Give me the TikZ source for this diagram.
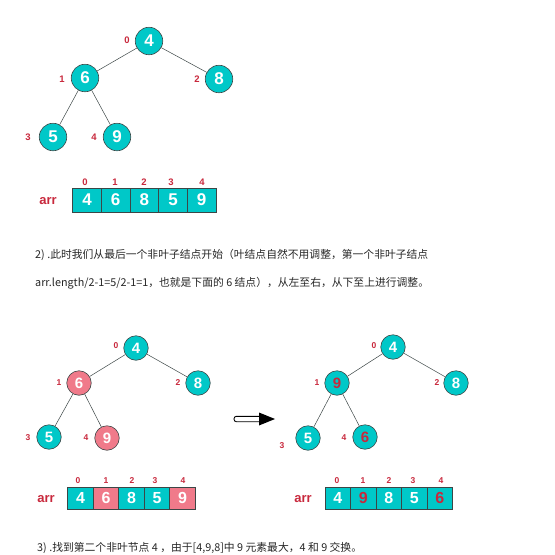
\documentclass[tikz,border=0pt]{standalone}
\usepackage{fontspec}
\setmainfont{Liberation Sans}
\newfontfamily\cjk{Noto Sans CJK SC}
\definecolor{heapteal}{RGB}{0,200,200}
\definecolor{heappink}{RGB}{240,122,138}
\definecolor{idxred}{RGB}{200,40,60}
\definecolor{rimgray}{RGB}{60,70,70}
\tikzset{
  tnode/.style={circle, draw=rimgray, line width=0.6pt, fill=heapteal, inner sep=0pt,
    minimum size=27.5pt, text=white, font=\bfseries\fontsize{17}{17}\selectfont},
  snode/.style={tnode, minimum size=24.5pt, font=\bfseries\fontsize{15}{15}\selectfont},
  hot/.style={fill=heappink},
  swapped/.style={text=idxred},
  idx/.style={text=idxred, inner sep=0pt, font=\bfseries\fontsize{9.5}{9.5}\selectfont},
  sidx/.style={idx, font=\bfseries\fontsize{8.5}{8.5}\selectfont},
  arrlabel/.style={text=idxred, inner sep=0pt, font=\bfseries\fontsize{13}{13}\selectfont},
  cell/.style={rectangle, draw=rimgray, line width=0.6pt, fill=heapteal, inner sep=0pt,
    minimum width=28.66pt, minimum height=24pt, text=white, font=\bfseries\fontsize{17}{17}\selectfont},
  scell/.style={cell, minimum width=25.5pt, minimum height=22pt, font=\bfseries\fontsize{16}{16}\selectfont},
  edge/.style={draw=rimgray, line width=0.5pt},
  note/.style={anchor=west, inner sep=0pt, text=black!85, font=\cjk\fontsize{10.8}{10.8}\selectfont}
}
\begin{document}
\begin{tikzpicture}[x=1pt, y=-1pt]
\useasboundingbox (0,0) rectangle (555,555);

% ---- initial tree ----
\node[tnode] (a0) at (149,41) {4};
\node[tnode] (a1) at (85,78) {6};
\node[tnode] (a2) at (219,79) {8};
\node[tnode] (a3) at (53,137) {5};
\node[tnode] (a4) at (117,137) {9};
\draw[edge] (a0) -- (a1);
\draw[edge] (a0) -- (a2);
\draw[edge] (a1) -- (a3);
\draw[edge] (a1) -- (a4);
\node[idx] (ai0) at (127,40) {0};
\node[idx] (ai1) at (62,79) {1};
\node[idx] (ai2) at (197,79) {2};
\node[idx] (ai3) at (28,137) {3};
\node[idx] (ai4) at (94,137) {4};

% ---- initial array ----
\node[arrlabel] (aarr) at (48,201) {arr};
\node[cell] (c0) at (87,200) {4};
\node[cell] (c1) at (115.66,200) {6};
\node[cell] (c2) at (144.32,200) {8};
\node[cell] (c3) at (172.98,200) {5};
\node[cell] (c4) at (201.64,200) {9};
\node[idx] (ci0) at (85,182) {0};
\node[idx] (ci1) at (115,182) {1};
\node[idx] (ci2) at (144,182) {2};
\node[idx] (ci3) at (171,182) {3};
\node[idx] (ci4) at (202,182) {4};

% ---- step 2 text ----
\node[note] (t1) at (35,255) {2)\ .此时我们从最后一个非叶子结点开始（叶结点自然不用调整，第一个非叶子结点};
\node[note] (t2) at (35,283) {arr.length/2-1=5/2-1=1，也就是下面的 6 结点），从左至右，从下至上进行调整。};

% ---- tree before adjustment ----
\node[snode] (b0) at (136,348) {4};
\node[snode, hot] (b1) at (79,383) {6};
\node[snode] (b2) at (198,383) {8};
\node[snode] (b3) at (49,437) {5};
\node[snode, hot] (b4) at (107,438) {9};
\draw[edge] (b0) -- (b1);
\draw[edge] (b0) -- (b2);
\draw[edge] (b1) -- (b3);
\draw[edge] (b1) -- (b4);
\node[sidx] (bi0) at (116,346) {0};
\node[sidx] (bi1) at (59,383) {1};
\node[sidx] (bi2) at (178,383) {2};
\node[sidx] (bi3) at (28,438) {3};
\node[sidx] (bi4) at (86,438) {4};

% ---- hollow arrow between the two trees ----
\draw[line width=0.9pt, rounded corners=2.4pt] (259,416.3) -- (234,416.3) -- (234,421.7) -- (259,421.7);
\fill (259,412.5) -- (275,419) -- (259,425.5) -- cycle;

% ---- tree after adjustment ----
\node[snode] (d0) at (393,347) {4};
\node[snode, swapped] (d1) at (337,383) {9};
\node[snode] (d2) at (456,383) {8};
\node[snode] (d3) at (308,438) {5};
\node[snode, swapped] (d4) at (365,437) {6};
\draw[edge] (d0) -- (d1);
\draw[edge] (d0) -- (d2);
\draw[edge] (d1) -- (d3);
\draw[edge] (d1) -- (d4);
\node[sidx] (di0) at (374,346) {0};
\node[sidx] (di1) at (317,383) {1};
\node[sidx] (di2) at (437,383) {2};
\node[sidx] (di3) at (282,446) {3};
\node[sidx] (di4) at (344,438) {4};

% ---- arrays below ----
\node[arrlabel] (barr) at (46,499) {arr};
\node[scell] (e0) at (80.5,498) {4};
\node[scell, hot] (e1) at (106,498) {6};
\node[scell] (e2) at (131.5,498) {8};
\node[scell] (e3) at (157,498) {5};
\node[scell, hot] (e4) at (182.5,498) {9};
\node[sidx] (ei0) at (78,481) {0};
\node[sidx] (ei1) at (106,481) {1};
\node[sidx] (ei2) at (132,481) {2};
\node[sidx] (ei3) at (155,481) {3};
\node[sidx] (ei4) at (183,481) {4};

\node[arrlabel] (darr) at (303,499) {arr};
\node[scell] (f0) at (337.7,498) {4};
\node[scell, swapped] (f1) at (363.2,498) {9};
\node[scell] (f2) at (388.7,498) {8};
\node[scell] (f3) at (414.2,498) {5};
\node[scell, swapped] (f4) at (439.7,498) {6};
\node[sidx] (fi0) at (337,481) {0};
\node[sidx] (fi1) at (363,481) {1};
\node[sidx] (fi2) at (389,481) {2};
\node[sidx] (fi3) at (413,481) {3};
\node[sidx] (fi4) at (441,481) {4};

% ---- step 3 text ----
\node[note] (t3) at (37,548) {3)\ .找到第二个非叶节点\ 4\ ，由于[4,9,8]中\ 9\ 元素最大，4\ 和\ 9\ 交换。};
\end{tikzpicture}
\end{document}
